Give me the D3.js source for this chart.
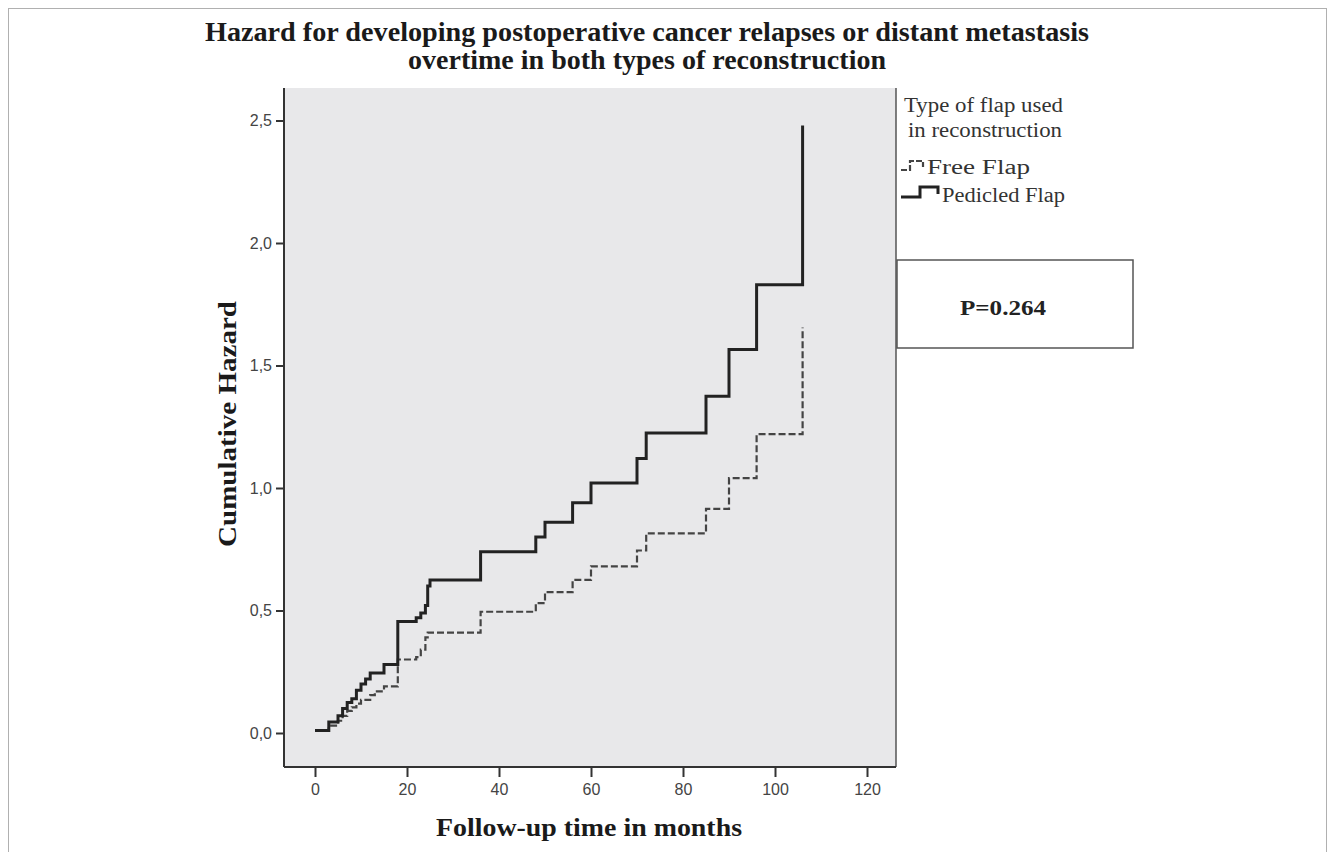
<!DOCTYPE html>
<html>
<head>
<meta charset="utf-8">
<script src="https://cdn.jsdelivr.net/npm/d3@7/dist/d3.min.js"></script>
<style>
  html, body { margin: 0; padding: 0; background: #ffffff; }
  svg { display: block; }
</style>
</head>
<body>
<svg id="chart" width="1335" height="852"></svg>
<script>
// ---- Data ----
const titleLines = ["Hazard for developing postoperative cancer relapses or distant metastasis",
                    "overtime in both types of reconstruction"];
const xTicks = [0, 20, 40, 60, 80, 100, 120];
const yTicks = [0, 0.5, 1.0, 1.5, 2.0, 2.5];
const yTickLabels = ["0,0", "0,5", "1,0", "1,5", "2,0", "2,5"];
const seriesNames = ["Free Flap", "Pedicled Flap"];

const freeTimes  = [0, 3, 5, 6, 7, 8, 9, 10, 12, 13, 15, 18, 22, 23, 24, 24.5, 36, 48, 50, 56, 60, 70, 72, 85, 90, 96, 106];
const freeHazard = [0.01, 0.03, 0.05, 0.07, 0.09, 0.105, 0.12, 0.135, 0.155, 0.17, 0.19, 0.30, 0.31, 0.34, 0.39, 0.41, 0.495, 0.53, 0.575, 0.625, 0.68, 0.745, 0.815, 0.915, 1.04, 1.22, 1.655];

const pedTimes  = [0, 3, 5, 6, 7, 8, 9, 10, 11, 12, 15, 18, 22, 23, 24, 24.5, 25, 36, 48, 50, 56, 60, 70, 72, 85, 90, 96, 106];
const pedHazard = [0.01, 0.045, 0.07, 0.10, 0.125, 0.14, 0.175, 0.20, 0.22, 0.245, 0.28, 0.455, 0.47, 0.49, 0.52, 0.60, 0.625, 0.74, 0.80, 0.86, 0.94, 1.02, 1.12, 1.225, 1.375, 1.565, 1.83, 2.48];

const pValueText = "P=0.264";

// ---- Layout ----
const svg = d3.select("#chart");
const plot = { left: 284, right: 896, top: 88, bottom: 767 };

const x = d3.scaleLinear().domain([0, 120]).range([315, 867]);
const y = d3.scaleLinear().domain([0, 2.5]).range([733, 120.5]);

const serif = "'Liberation Serif', 'Times New Roman', serif";
const sans = "'Liberation Sans', Arial, sans-serif";

// outer frame
svg.append("rect")
  .attr("x", 8.5).attr("y", 8.5).attr("width", 1318).attr("height", 880)
  .attr("fill", "none").attr("stroke", "#b0b0b0").attr("stroke-width", 1);

// title
svg.append("text").attr("x", 647).attr("y", 41)
  .attr("text-anchor", "middle").attr("font-family", serif).attr("font-weight", "bold")
  .attr("font-size", 27).attr("fill", "#1a1a1a")
  .attr("textLength", 884).attr("lengthAdjust", "spacingAndGlyphs")
  .text(titleLines[0]);
svg.append("text").attr("x", 647).attr("y", 69)
  .attr("text-anchor", "middle").attr("font-family", serif).attr("font-weight", "bold")
  .attr("font-size", 27).attr("fill", "#1a1a1a")
  .attr("textLength", 478).attr("lengthAdjust", "spacingAndGlyphs")
  .text(titleLines[1]);

// plot background
svg.append("rect")
  .attr("x", plot.left).attr("y", plot.top)
  .attr("width", plot.right - plot.left).attr("height", plot.bottom - plot.top)
  .attr("fill", "#e8e8ea");
// right border
svg.append("line").attr("x1", plot.right).attr("x2", plot.right)
  .attr("y1", plot.top).attr("y2", plot.bottom)
  .attr("stroke", "#555").attr("stroke-width", 1.5);

// axes
const xAxis = d3.axisBottom(x).tickValues(xTicks).tickSize(10).tickSizeOuter(0).tickFormat(d3.format("d"));
const gx = svg.append("g").attr("transform", `translate(0,${plot.bottom})`).call(xAxis);
gx.select(".domain").attr("d", `M${plot.left},0H${plot.right}`).attr("stroke", "#333").attr("stroke-width", 2);
gx.selectAll(".tick line").attr("stroke", "#333").attr("stroke-width", 2);
gx.selectAll(".tick text").attr("font-family", sans).attr("font-size", 16).attr("fill", "#444").attr("dy", "0.9em").attr("y", 14);

const yAxis = d3.axisLeft(y).tickValues(yTicks).tickSize(8).tickSizeOuter(0)
  .tickFormat((d, i) => yTickLabels[i]);
const gy = svg.append("g").attr("transform", `translate(${plot.left},0)`).call(yAxis);
gy.select(".domain").attr("d", `M0,${plot.top}V${plot.bottom}`).attr("stroke", "#333").attr("stroke-width", 2);
gy.selectAll(".tick line").attr("stroke", "#333").attr("stroke-width", 2);
gy.selectAll(".tick text").attr("font-family", sans).attr("font-size", 16).attr("fill", "#444").attr("x", -12);

// axis titles
svg.append("text")
  .attr("transform", "translate(236,424) rotate(-90)")
  .attr("text-anchor", "middle").attr("font-family", serif).attr("font-weight", "bold")
  .attr("font-size", 26).attr("fill", "#1a1a1a")
  .attr("textLength", 246).attr("lengthAdjust", "spacingAndGlyphs")
  .text("Cumulative Hazard");
svg.append("text")
  .attr("x", 589).attr("y", 836)
  .attr("text-anchor", "middle").attr("font-family", serif).attr("font-weight", "bold")
  .attr("font-size", 26).attr("fill", "#1a1a1a")
  .attr("textLength", 306).attr("lengthAdjust", "spacingAndGlyphs")
  .text("Follow-up time in months");

// step curves
const line = d3.line().x(d => x(d[0])).y(d => y(d[1])).curve(d3.curveStepAfter);
const freeData = freeTimes.map((t, i) => [t, freeHazard[i]]);
const pedData = pedTimes.map((t, i) => [t, pedHazard[i]]);

svg.append("path").datum(freeData).attr("d", line)
  .attr("fill", "none").attr("stroke", "#444").attr("stroke-width", 2.2)
  .attr("stroke-dasharray", "7,3");
svg.append("path").datum(pedData).attr("d", line)
  .attr("fill", "none").attr("stroke", "#222").attr("stroke-width", 3);

// legend
const lg = svg.append("g");
lg.append("text").attr("x", 904).attr("y", 112).attr("font-family", serif)
  .attr("font-size", 20).attr("fill", "#333")
  .attr("textLength", 159).attr("lengthAdjust", "spacingAndGlyphs").text("Type of flap used");
lg.append("text").attr("x", 908).attr("y", 137).attr("font-family", serif)
  .attr("font-size", 20).attr("fill", "#333")
  .attr("textLength", 154).attr("lengthAdjust", "spacingAndGlyphs").text("in reconstruction");

lg.append("path").attr("d", "M901,170H910V161H923V167")
  .attr("fill", "none").attr("stroke", "#444").attr("stroke-width", 2.2).attr("stroke-dasharray", "6,2");
lg.append("text").attr("x", 927).attr("y", 174).attr("font-family", serif)
  .attr("font-size", 20).attr("fill", "#333")
  .attr("textLength", 103).attr("lengthAdjust", "spacingAndGlyphs").text(seriesNames[0]);

lg.append("path").attr("d", "M901,197H920V187H938V194")
  .attr("fill", "none").attr("stroke", "#222").attr("stroke-width", 3);
lg.append("text").attr("x", 942).attr("y", 202).attr("font-family", serif)
  .attr("font-size", 20).attr("fill", "#333")
  .attr("textLength", 123).attr("lengthAdjust", "spacingAndGlyphs").text(seriesNames[1]);

// p-value box
svg.append("rect").attr("x", 897).attr("y", 260).attr("width", 236).attr("height", 88)
  .attr("fill", "#fff").attr("stroke", "#555").attr("stroke-width", 1.5);
svg.append("text").attr("x", 1003).attr("y", 315).attr("text-anchor", "middle")
  .attr("font-family", serif).attr("font-weight", "bold").attr("font-size", 21)
  .attr("fill", "#222").attr("textLength", 86).attr("lengthAdjust", "spacingAndGlyphs")
  .text(pValueText);
</script>
</body>
</html>
